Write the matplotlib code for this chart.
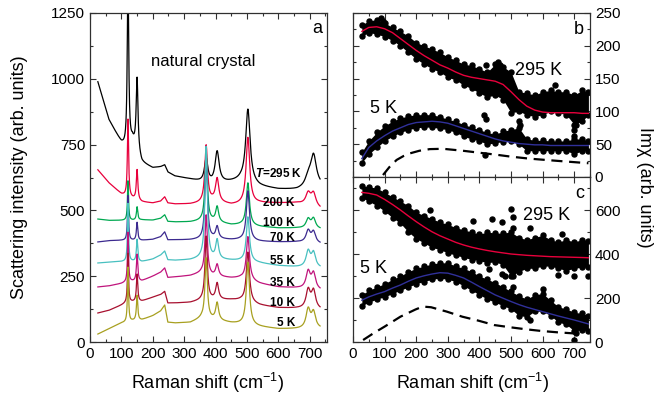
import numpy as np
import matplotlib
matplotlib.use('Agg')
import matplotlib.pyplot as plt
from matplotlib.ticker import MultipleLocator

plt.rcParams['font.family'] = ['Liberation Sans', 'DejaVu Sans']
plt.rcParams['mathtext.fontset'] = 'custom'
plt.rcParams['mathtext.rm'] = 'Liberation Sans'
plt.rcParams['mathtext.it'] = 'Liberation Sans:italic'
plt.rcParams['mathtext.bf'] = 'Liberation Sans:bold'
plt.rcParams['mathtext.bfit'] = 'Liberation Sans:bold:italic'

# ---------------- Panel a data: spectra (baseline anchors + peaks) -------------
labels = [r'$\mathbfit{T}$=295 K', '200 K', '100 K', '70 K', '55 K', '35 K', '10 K', '5 K']
colors = ['#000000', '#e8003c', '#00a850', '#3c2a8f', '#48c0c0', '#c0147c', '#a8102f', '#a8a020']
label_y = [642, 528, 452, 395, 308, 224, 148, 72]
label_x = [675, 653, 653, 653, 653, 653, 653, 653]

BASE_X = [25, 60, 100, 118, 135, 165, 200, 225, 238, 248, 270, 320, 355, 390, 450, 480, 540, 600, 660, 735]
base_295 = [988, 845, 755, 728, 760, 680, 661, 665, 672, 645, 630, 618, 608, 600, 608, 612, 590, 580, 578, 590]
base_200 = [654, 605, 562, 552, 545, 532, 528, 535, 551, 528, 524, 524, 528, 535, 521, 523, 528, 528, 528, 505]
base_100 = [467, 462, 462, 462, 462, 464, 463, 470, 483, 458, 456, 456, 460, 458, 445, 445, 438, 433, 433, 428]
base_70 = [380, 385, 386, 386, 386, 386, 390, 400, 418, 388, 388, 388, 390, 392, 388, 388, 382, 380, 380, 372]
base_55 = [300, 303, 305, 306, 306, 305, 315, 330, 345, 312, 310, 312, 318, 315, 310, 308, 300, 290, 285, 280]
base_35 = [209, 213, 222, 228, 230, 232, 250, 265, 281, 245, 247, 252, 262, 250, 243, 243, 222, 209, 205, 195]
base_10 = [110, 120, 140, 150, 152, 155, 170, 180, 192, 148, 148, 150, 158, 160, 160, 158, 140, 130, 128, 122]
base_5 = [30, 50, 72, 75, 80, 84, 100, 118, 140, 75, 72, 74, 90, 85, 72, 68, 58, 50, 50, 50]

PEAK_X = [121, 150, 370, 405, 503, 695, 712]
amp_295 = [650, 280, 90, 120, 280, 35, 120]
amp_200 = [295, 115, 215, 88, 252, 45, 50]
amp_100 = [150, 50, 265, 58, 162, 35, 38]
amp_70 = [170, 68, 310, 46, 188, 45, 42]
amp_55 = [220, 84, 425, 72, 170, 60, 55]
amp_35 = [188, 102, 225, 45, 165, 65, 60]
amp_10 = [186, 104, 242, 62, 190, 70, 68]
amp_5 = [208, 95, 230, 66, 238, 72, 60]

bases = [base_295, base_200, base_100, base_70, base_55, base_35, base_10, base_5]
amps = [amp_295, amp_200, amp_100, amp_70, amp_55, amp_35, amp_10, amp_5]
HWHM = [2.0, 2.5, 4.5, 5.5, 6.0, 8.0, 8.0]
width_scale = [1.4, 1.15, 1, 1, 1, 1, 1, 1]

# ---------------- Panels b, c data: scattered Im chi and fits -------------------
CX = [28, 50, 75, 100, 125, 150, 175, 200, 225, 250, 275, 300, 325, 350, 375,
      400, 425, 450, 475, 500, 525, 550, 575, 600, 625, 650, 675, 700, 725, 745]

b_fit_295 = [222, 228, 229, 226, 220, 211, 202, 193, 185, 178, 171, 166, 160, 155, 152,
             150, 148, 146, 141, 130, 118, 108, 102, 99, 98, 98, 98, 98, 97, 97]
b_lo_295 = [215, 220, 218, 214, 208, 200, 190, 180, 172, 165, 160, 152, 148, 140, 135,
            128, 122, 125, 118, 98, 100, 95, 92, 95, 100, 98, 95, 80, 85, 95]
b_hi_295 = [232, 238, 240, 235, 228, 222, 215, 205, 200, 195, 190, 183, 178, 172, 170,
            165, 160, 172, 168, 160, 130, 128, 125, 130, 132, 130, 130, 125, 132, 130]
b_fit_5 = [28, 45, 55, 63, 70, 75, 80, 83, 84, 85, 84, 82, 78, 74, 70,
           66, 62, 58, 55, 53, 51, 50, 49, 49, 48, 48, 48, 48, 48, 48]
b_lo_5 = [22, 35, 45, 55, 62, 68, 72, 75, 76, 76, 74, 72, 68, 62, 58,
          55, 50, 52, 54, 55, 50, 40, 40, 40, 40, 40, 40, 35, 40, 40]
b_hi_5 = [38, 55, 68, 78, 85, 90, 93, 95, 95, 95, 92, 88, 85, 80, 76,
          72, 68, 65, 70, 72, 75, 58, 56, 56, 55, 55, 55, 58, 58, 55]
b_out_295_x = [90, 95, 460, 465, 700, 705, 710, 640, 420]
b_out_295_y = [243, 238, 176, 170, 72, 80, 88, 140, 170]
b_out_5_x = [415, 418, 420, 525, 530, 700]
b_out_5_y = [95, 34, 88, 86, 80, 62]
dash_b_x = [95, 115, 138, 160, 180, 210, 243, 285, 348, 400, 453, 500, 558, 610, 663, 745]
dash_b_y = [3, 15, 26, 32, 36, 40, 42.5, 43, 40, 37, 34, 31, 28, 26, 24, 21]

c_fit_295 = [680, 676, 668, 648, 625, 600, 573, 547, 523, 501, 483, 468, 453, 441, 431,
             423, 416, 410, 405, 400, 397, 394, 392, 390, 388, 387, 386, 385, 384, 383]
c_lo_295 = [655, 640, 620, 595, 565, 540, 500, 470, 450, 430, 420, 405, 395, 385, 375,
            370, 360, 365, 350, 300, 320, 335, 335, 345, 345, 335, 325, 335, 340, 340]
c_hi_295 = [710, 705, 700, 680, 660, 640, 620, 590, 575, 560, 545, 535, 520, 510, 500,
            490, 500, 495, 495, 500, 475, 465, 475, 485, 465, 455, 465, 455, 465, 460]
c_fit_5 = [190, 205, 218, 229, 245, 259, 276, 291, 301, 309, 315, 313, 303, 291, 272,
           252, 233, 214, 199, 184, 170, 158, 148, 138, 128, 118, 109, 100, 90, 82]
c_lo_5 = [165, 180, 195, 205, 220, 235, 250, 265, 275, 285, 290, 285, 275, 255, 235,
          215, 195, 180, 165, 150, 120, 115, 140, 140, 120, 90, 80, 50, 55, 50]
c_hi_5 = [215, 235, 250, 265, 285, 300, 320, 335, 345, 355, 360, 360, 345, 335, 320,
          300, 285, 270, 250, 230, 210, 195, 215, 220, 190, 160, 150, 135, 130, 120]
c_out_295_x = [500, 505, 505, 510, 470, 560, 440, 380, 660, 700, 650, 745, 245, 505, 505, 505, 505]
c_out_295_y = [605, 570, 520, 460, 545, 520, 560, 550, 490, 300, 305, 300, 600, 250, 300, 350, 400]
c_out_5_x = [700, 705, 600, 470, 430, 560, 480]
c_out_5_y = [10, 40, 240, 310, 330, 100, 300]
dash_c_x = [32, 64, 100, 150, 198, 221, 247, 297, 346, 397, 447, 497, 546, 597, 647, 700]
dash_c_y = [9, 39, 70, 115, 148, 161, 158, 138, 115, 97, 77, 67, 58, 50, 44, 39]

RED = '#e8003c'
BLUE = '#30309a'
SPINE = '#303030'

fig = plt.figure(figsize=(6.68, 3.99), dpi=100)
ax_a = fig.add_axes([90/668, 57/399, 237/668, 329/399])
ax_b = fig.add_axes([353/668, 222/399, 237/668, 164/399])
ax_c = fig.add_axes([353/668, 57/399, 237/668, 165/399])

# ---------- panel a ----------
xs = np.arange(25, 733.5, 0.5)
for base, amp, col, ws in zip(bases, amps, colors, width_scale):
    y = np.interp(xs, BASE_X, base)
    for p, a, w in zip(PEAK_X, amp, HWHM):
        w = w * ws
        y = y + a * w**2 / ((xs - p)**2 + w**2)
    ax_a.plot(xs, y, color=col, lw=0.9)

for lab, lx, ly in zip(labels, label_x, label_y):
    ax_a.text(lx, ly, lab, ha='right', va='center', fontsize=8.5, fontweight='bold')
ax_a.text(360, 1064, 'natural crystal', ha='center', va='center', fontsize=12)
ax_a.text(723, 1193, 'a', ha='center', va='center', fontsize=13)
ax_a.set_xlim(0, 755)
ax_a.set_ylim(0, 1250)
ax_a.xaxis.set_major_locator(MultipleLocator(100))
ax_a.xaxis.set_minor_locator(MultipleLocator(50))
ax_a.yaxis.set_major_locator(MultipleLocator(250))
ax_a.yaxis.set_minor_locator(MultipleLocator(125))

# ---------- panels b, c ----------
def cloud(ax, lo, hi, ox, oy):
    ax.fill_between(CX, lo, hi, color='black', lw=0, zorder=2)
    ax.plot(CX, lo, 'o', color='black', ms=3.6, zorder=2)
    ax.plot(CX, hi, 'o', color='black', ms=3.6, zorder=2)
    ax.plot(ox, oy, 'o', color='black', ms=3.6, zorder=2, ls='none')

cloud(ax_b, b_lo_295, b_hi_295, b_out_295_x, b_out_295_y)
cloud(ax_b, b_lo_5, b_hi_5, b_out_5_x, b_out_5_y)
ax_b.plot(CX, b_fit_295, color=RED, lw=1.0, zorder=3)
ax_b.plot(CX, b_fit_5, color=BLUE, lw=1.0, zorder=3)
ax_b.plot(dash_b_x, dash_b_y, color='black', lw=1.6, ls=(0, (5, 3)), zorder=3)
ax_b.text(587, 163, '295 K', ha='center', va='center', fontsize=13)
ax_b.text(95, 105, '5 K', ha='center', va='center', fontsize=13)
ax_b.text(716, 225, 'b', ha='center', va='center', fontsize=13)
ax_b.set_xlim(0, 750)
ax_b.set_ylim(0, 250)
ax_b.xaxis.set_major_locator(MultipleLocator(100))
ax_b.xaxis.set_minor_locator(MultipleLocator(50))
ax_b.yaxis.set_major_locator(MultipleLocator(50))
ax_b.yaxis.set_minor_locator(MultipleLocator(25))

cloud(ax_c, c_lo_295, c_hi_295, c_out_295_x, c_out_295_y)
cloud(ax_c, c_lo_5, c_hi_5, c_out_5_x, c_out_5_y)
ax_c.plot(CX, c_fit_295, color=RED, lw=1.0, zorder=3)
ax_c.plot(CX, c_fit_5, color=BLUE, lw=1.0, zorder=3)
ax_c.plot(dash_c_x, dash_c_y, color='black', lw=1.6, ls=(0, (5, 3)), zorder=3)
ax_c.text(612, 577, '295 K', ha='center', va='center', fontsize=13)
ax_c.text(66, 332, '5 K', ha='center', va='center', fontsize=13)
ax_c.text(719, 677, 'c', ha='center', va='center', fontsize=13)
ax_c.set_xlim(0, 750)
ax_c.set_ylim(0, 750)
ax_c.xaxis.set_major_locator(MultipleLocator(100))
ax_c.xaxis.set_minor_locator(MultipleLocator(50))
ax_c.yaxis.set_major_locator(MultipleLocator(200))
ax_c.yaxis.set_minor_locator(MultipleLocator(100))

for ax in (ax_a, ax_b, ax_c):
    ax.tick_params(which='both', direction='in', top=True, right=True, left=True, bottom=True,
                   labelsize=11, width=0.8, color=SPINE)
    ax.tick_params(which='major', length=4)
    ax.tick_params(which='minor', length=2)
    for s in ax.spines.values():
        s.set_color(SPINE)
        s.set_linewidth(0.9)

ax_a.tick_params(labelleft=True, labelright=False, labelbottom=True)
ax_b.tick_params(labelleft=False, labelright=True, labelbottom=False)
ax_c.tick_params(labelleft=False, labelright=True, labelbottom=True)
ax_c.set_yticks([0, 200, 400, 600])
ax_b.set_yticks([0, 50, 100, 150, 200, 250])

fig.text(20/668, 1 - 177/399, 'Scattering intensity (arb. units)', rotation=90,
         ha='center', va='center', fontsize=13)
fig.text(207/668, 1 - 383/399, r'Raman shift (cm$^{\mathregular{-1}}$)', ha='center', va='center', fontsize=13)
fig.text(472/668, 1 - 383/399, r'Raman shift (cm$^{\mathregular{-1}}$)', ha='center', va='center', fontsize=13)
fig.text(645/668, 1 - 187/399, 'Im\u03c7 (arb. units)', rotation=270,
         ha='center', va='center', fontsize=13)

fig.savefig('out.png', dpi=100)
